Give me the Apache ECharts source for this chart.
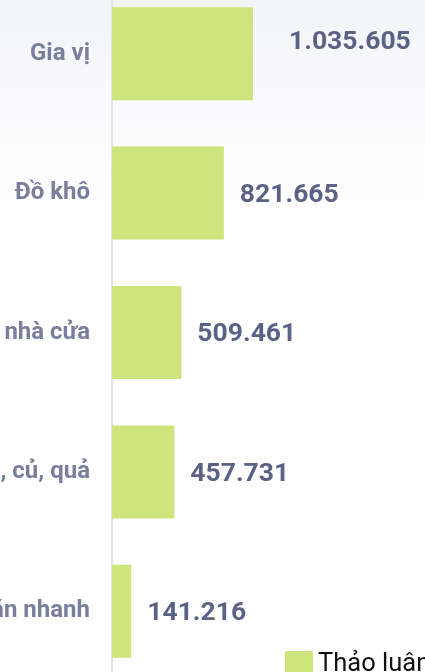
<!DOCTYPE html>
<html>
<head>
<meta charset="utf-8">
<script src="https://cdn.jsdelivr.net/npm/echarts@6/dist/echarts.min.js"></script>
<style>
  html, body { margin: 0; padding: 0; background: #fff; }
  #chart { width: 425px; height: 672px; }
</style>
</head>
<body>
<div id="chart"></div>
<script>
// categories, top to bottom
const categories = ['Gia vị', 'Đồ khô', 'Đồ dùng nhà cửa', 'Rau, củ, quả', 'Đồ ăn nhanh'];
// discussion counts
const values = [1035605, 821665, 509461, 457731, 141216];
const seriesName = 'Thảo luận';

const fmt = (v) => String(v).replace(/\B(?=(\d{3})+(?!\d))/g, '.');

const chart = echarts.init(document.getElementById('chart'));

chart.setOption({
  backgroundColor: {
    type: 'linear', x: 0, y: 0, x2: 0, y2: 1,
    colorStops: [
      { offset: 0, color: '#f3f4f8' },
      { offset: 0.3, color: '#ffffff' }
    ]
  },
  textStyle: { fontFamily: 'Roboto' },
  grid: {
    left: 112, top: -16, width: 272.3, height: 697,
    containLabel: false,
    outerBoundsMode: 'none'
  },
  xAxis: {
    type: 'value',
    min: 0,
    max: 2000000,
    show: false
  },
  yAxis: {
    type: 'category',
    inverse: true,
    data: categories,
    axisLine: { show: true, lineStyle: { color: '#e1e3ea', width: 2 } },
    axisTick: { show: false },
    axisLabel: {
      color: '#787f9c',
      fontSize: 24,
      fontWeight: 'bold',
      margin: 22
    }
  },
  legend: {
    left: 280,
    top: 646,
    icon: 'rect',
    itemWidth: 28,
    itemHeight: 28,
    itemGap: 10,
    textStyle: { fontSize: 25.5, color: '#111', fontFamily: 'Roboto', padding: [9, 0, 0, 0] },
    data: [seriesName]
  },
  series: [{
    name: seriesName,
    type: 'bar',
    barWidth: 93,
    itemStyle: { color: '#cee47c' },
    label: {
      show: true,
      position: 'right',
      distance: 16,
      color: '#5a6386',
      fontSize: 26.5,
      fontWeight: 'bold',
      offset: [0, 2],
      formatter: (p) => fmt(p.value)
    },
    data: values.map((v, i) => i === 0
      ? { value: v, label: { offset: [20, -11] } }
      : v)
  }]
});
</script>
</body>
</html>
